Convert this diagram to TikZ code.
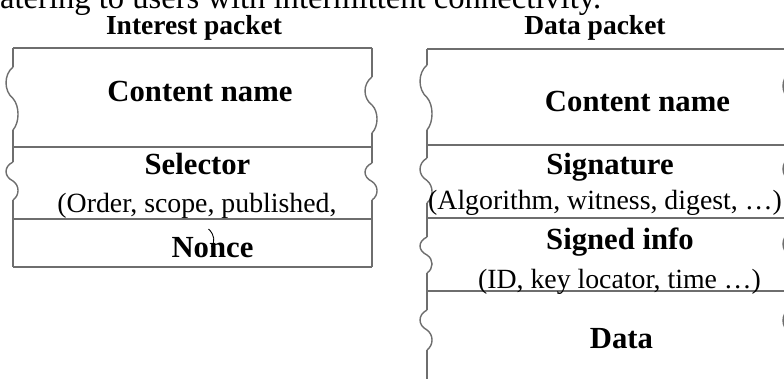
\documentclass[tikz,border=0pt]{standalone}
\usepackage{fontspec}
\setmainfont{Liberation Serif}
\tikzset{
  boxline/.style={draw={rgb,255:red,110;green,110;blue,110}, line width=1.4pt},
  title/.style={anchor=base, inner sep=0pt, font=\bfseries\fontsize{27.5}{30}\selectfont},
  field/.style={anchor=base, inner sep=0pt, font=\bfseries\fontsize{30.7}{33}\selectfont},
  sub/.style={anchor=base, inner sep=0pt, font=\fontsize{27.8}{30}\selectfont},
}
% one wavy break in a vertical edge at x between y=#2 and y=#3
\newcommand\edgewave[3]{%
  \draw[boxline] (#1,#2)
    .. controls ({#1-9.3},{#2+0.12*(#3-#2)}) and ({#1-9.3},{#2+0.38*(#3-#2)}) .. (#1,{0.5*(#2+#3)})
    .. controls ({#1+6.7},{#2+0.62*(#3-#2)}) and ({#1+6.7},{#2+0.88*(#3-#2)}) .. (#1,#3);}
\begin{document}
\begin{tikzpicture}[x=1pt,y=-1pt]
\useasboundingbox (0,0) rectangle (784,379);
\clip (0,0) rectangle (784,379);
\fill[white] (0,0) rectangle (784,379);

% running text line above the figure
\node[anchor=base west, inner sep=0pt, font=\fontsize{32.6}{36}\selectfont] (body) at (0,8.5)
  {atering to users with intermittent connectivity.};

% ---------- Interest packet ----------
\node[title] (ititle) at (194,35) {Interest packet};
\draw[boxline] (13,48) -- (372,48);
\draw[boxline] (13,147) -- (372,147);
\draw[boxline] (13,219) -- (372,219);
\draw[boxline] (13,267) -- (372,267);
% left edge
\draw[boxline] (13,48) -- (13,67);
\edgewave{13}{67}{130}
\draw[boxline] (13,130) -- (13,162);
\edgewave{13}{162}{200}
\draw[boxline] (13,200) -- (13,267);
% right edge
\draw[boxline] (372,48) -- (372,77);
\edgewave{372}{77}{133}
\draw[boxline] (372,133) -- (372,163);
\edgewave{372}{163}{200}
\draw[boxline] (372,200) -- (372,267);

\node[field] (iname) at (200,102) {Content name};
\node[field] (isel) at (197.5,175) {Selector};
\node[sub] (iselx) at (197,213) {(Order, scope, published,};
\node[field] (inonce) at (212.5,258) {Nonce};
\draw[black, line width=0.9pt] (208.5,229) .. controls (215,235) and (215,242) .. (211.5,247);

% ---------- Data packet ----------
\node[title] (dtitle) at (595,35) {Data packet};
\draw[boxline] (427,49) -- (800,49);
\draw[boxline] (427,145) -- (800,145);
\draw[boxline] (427,218) -- (800,218);
\draw[boxline] (427,291) -- (800,291);
% left edge
\draw[boxline] (427,49) -- (427,65);
\edgewave{427}{65}{130}
\draw[boxline] (427,130) -- (427,158);
\edgewave{427}{158}{203}
\draw[boxline] (427,203) -- (427,237);
\edgewave{427}{237}{273}
\draw[boxline] (427,273) -- (427,310);
\edgewave{427}{310}{350}
\draw[boxline] (427,350) -- (427,390);
% right edge
\draw[boxline] (790,49) -- (790,72);
\edgewave{790}{72}{128}
\draw[boxline] (790,128) -- (790,157);
\edgewave{790}{157}{205}
\draw[boxline] (790,205) -- (790,232);
\edgewave{790}{232}{280}
\draw[boxline] (790,280) -- (790,308);
\edgewave{790}{308}{358}
\draw[boxline] (790,358) -- (790,390);

\node[field] (dname) at (637.5,112) {Content name};
\node[field] (dsig) at (610,175) {Signature};
\node[sub] (dsigx) at (605,210) {(Algorithm, witness, digest, …)};
\node[field] (dinfo) at (620,250) {Signed info};
\node[sub] (dinfox) at (619.5,288) {(ID, key locator, time …)};
\node[field] (ddata) at (621.5,348) {Data};
\end{tikzpicture}
\end{document}
